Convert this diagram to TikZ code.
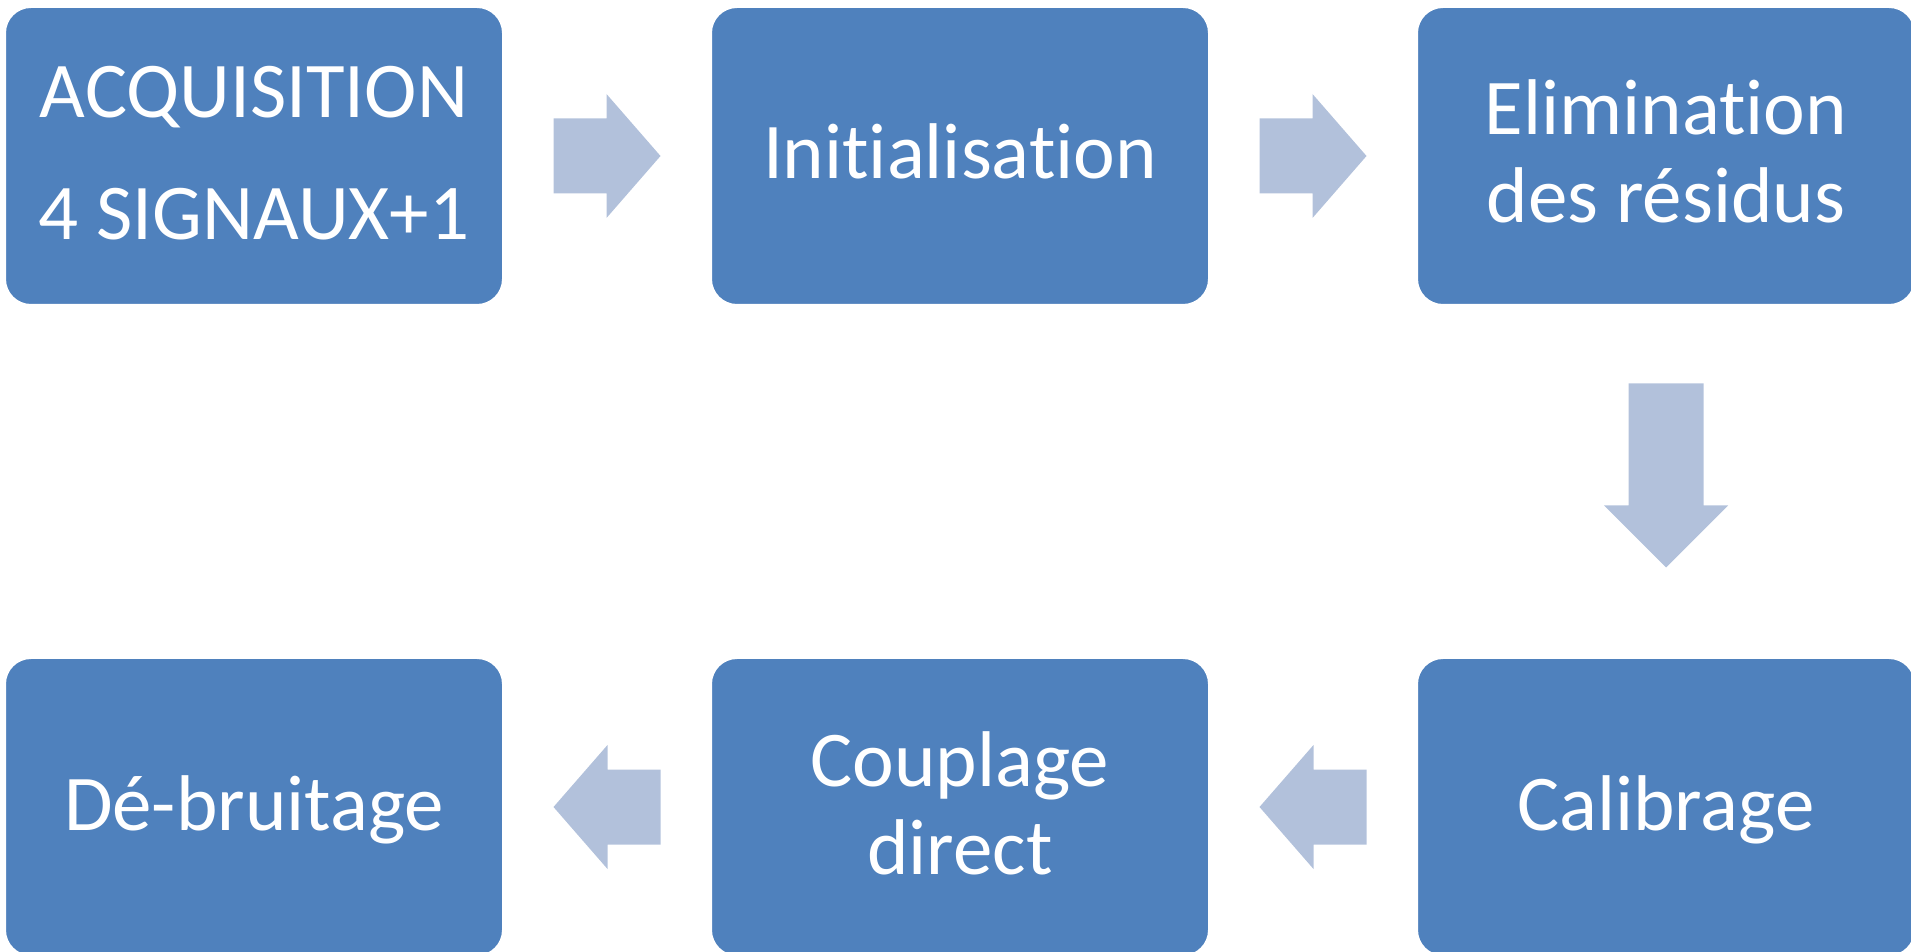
\documentclass[tikz,border=0pt]{standalone}
\usepackage{fontspec}
\setmainfont{Carlito}[Ligatures=NoCommon]
\usepackage{tikz}
\usetikzlibrary{calc}
\definecolor{stepblue}{HTML}{4F81BD}
\definecolor{arrowblue}{HTML}{B2C1DB}
% struts fixing the text block: top of first line, bottom of last line
\newcommand{\hstrut}{\rule{0pt}{70pt}}
\newcommand{\dstrut}{\rule[-24pt]{0pt}{24pt}}
% block arrow: centre, angle, half length, head length
\newcommand{\flowarrow}[4]{%
  \fill[arrowblue, shift={#1}, rotate=#2]
    (-#3,-37.5) -- ({#3-#4},-37.5) -- ({#3-#4},-62) -- (#3,0)
    -- ({#3-#4},62) -- ({#3-#4},37.5) -- (-#3,37.5) -- cycle;}

\begin{document}
\begin{tikzpicture}[x=1pt, y=1pt,
    stepbox/.style={draw=white, line width=2pt, fill=stepblue, rounded corners=26pt,
      minimum width=498pt, minimum height=298pt, inner sep=0pt, text=white,
      align=center, font={\fontsize{79pt}{88pt}\selectfont}}]
  \useasboundingbox (0,0) rectangle (1911,951);

  % top row
  \node[stepbox] (acq) at (254,795) {\hstrut ACQUISITION\\[34pt]4 SIGNAUX+1\dstrut};
  \node[stepbox] (init) at (960,795) {\hstrut Initialisation\dstrut};
  \node[stepbox] (elim) at (1666,795) {\hstrut Elimination\\des résidus\dstrut};

  % bottom row
  \node[stepbox] (calib) at (1666,144) {\hstrut Calibrage\dstrut};
  \node[stepbox] (coupl) at (960,144) {\hstrut Couplage\\direct\dstrut};
  \node[stepbox] (debruit) at (254,144) {\hstrut Dé-bruitage\dstrut};

  % arrows between the steps
  \flowarrow{($(acq.east)!0.5!(init.west)$)}{0}{53.5}{54}
  \flowarrow{($(init.east)!0.5!(elim.west)$)}{0}{53.5}{54}
  \flowarrow{($(elim.south)!0.5!(calib.north)+(0,6)$)}{-90}{92}{62}
  \flowarrow{($(calib.west)!0.5!(coupl.east)$)}{180}{53.5}{54}
  \flowarrow{($(coupl.west)!0.5!(debruit.east)$)}{180}{53.5}{54}
\end{tikzpicture}
\end{document}
